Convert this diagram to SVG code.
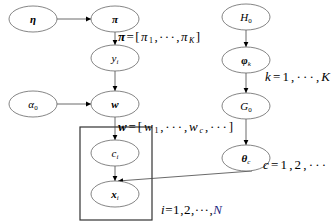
<svg xmlns="http://www.w3.org/2000/svg" width="336" height="222" viewBox="0 0 336 222">
<defs>
<marker id="ah" markerWidth="6" markerHeight="6" refX="5" refY="3" orient="auto" markerUnits="userSpaceOnUse"><path d="M0,0.6 L5,3 L0,5.4 Z" fill="#000"/></marker>
</defs>
<style>
.n ellipse{fill:#fff;stroke:#666;stroke-width:0.8}
text{font-family:"Liberation Serif","DejaVu Serif",serif;font-size:11px;fill:#000}
.c line{stroke:#444;stroke-width:0.8;fill:none;marker-end:url(#ah)}
.b{font-weight:bold;font-style:italic}
.i{font-style:italic}
.s{font-size:7px}
.l text{font-size:13px}
.l .s{font-size:8px}
</style>
<rect x="80" y="127" width="72" height="93" fill="none" stroke="#333" stroke-width="1.2"/>
<g class="c">
<line x1="57" y1="19" x2="91" y2="19"/>
<line x1="115" y1="32" x2="115" y2="45"/>
<line x1="115" y1="71" x2="115" y2="91"/>
<line x1="57" y1="104" x2="91" y2="104"/>
<line x1="115" y1="117" x2="115" y2="140"/>
<line x1="115" y1="166" x2="115" y2="181"/>
<line x1="246" y1="30" x2="246" y2="47"/>
<line x1="246" y1="73" x2="246" y2="93"/>
<line x1="246" y1="119" x2="246" y2="145"/>
<line x1="252" y1="171" x2="118" y2="181"/>
</g>
<g id="eta" class="n"><ellipse cx="33" cy="19" rx="24" ry="13"/><text x="33" y="23" text-anchor="middle" class="b">η</text></g>
<g id="pi" class="n"><ellipse cx="115" cy="19" rx="24" ry="13"/><text x="115" y="23" text-anchor="middle" class="b">π</text></g>
<g id="yi" class="n"><ellipse cx="115" cy="58" rx="24" ry="13"/><text x="115" y="62" text-anchor="middle"><tspan class="i">y</tspan><tspan class="s i" dy="2">i</tspan></text></g>
<g id="alpha0" class="n"><ellipse cx="33" cy="104" rx="24" ry="13"/><text x="33" y="108" text-anchor="middle"><tspan class="i">α</tspan><tspan class="s" dy="2">0</tspan></text></g>
<g id="w" class="n"><ellipse cx="115" cy="104" rx="24" ry="13"/><text x="115" y="108" text-anchor="middle" class="b">w</text></g>
<g id="ci" class="n"><ellipse cx="115" cy="153" rx="24" ry="13"/><text x="115" y="157" text-anchor="middle"><tspan class="i">c</tspan><tspan class="s i" dy="2">i</tspan></text></g>
<g id="xi" class="n"><ellipse cx="115" cy="194" rx="24" ry="13"/><text x="115" y="198" text-anchor="middle"><tspan class="b">x</tspan><tspan class="s i" dy="2">i</tspan></text></g>
<g id="H0" class="n"><ellipse cx="246" cy="17" rx="24" ry="13"/><text x="246" y="21" text-anchor="middle"><tspan class="i">H</tspan><tspan class="s" dy="2">0</tspan></text></g>
<g id="phik" class="n"><ellipse cx="246" cy="60" rx="24" ry="13"/><text x="246" y="64" text-anchor="middle"><tspan class="b">φ</tspan><tspan class="s i" dy="2">k</tspan></text></g>
<g id="G0" class="n"><ellipse cx="246" cy="106" rx="24" ry="13"/><text x="246" y="110" text-anchor="middle"><tspan class="i">G</tspan><tspan class="s" dy="2">0</tspan></text></g>
<g id="thetac" class="n"><ellipse cx="246" cy="158" rx="24" ry="13"/><text x="246" y="162" text-anchor="middle"><tspan class="b">θ</tspan><tspan class="s i" dy="2">c</tspan></text></g>
<g id="labels" class="l">
<text x="118" y="41" textLength="82"><tspan class="b">π</tspan>=[<tspan class="i">π</tspan><tspan class="s" dy="2">1</tspan><tspan dy="-2">,···,</tspan><tspan class="i">π</tspan><tspan class="s i" dy="2">K</tspan><tspan dy="-2">]</tspan></text>
<text x="265" y="81" textLength="65"><tspan class="i">k</tspan>=1,···,<tspan class="i">K</tspan></text>
<text x="118" y="131" textLength="115"><tspan class="b">w</tspan>=[<tspan class="i">w</tspan><tspan class="s" dy="2">1</tspan><tspan dy="-2">,···,</tspan><tspan class="i">w</tspan><tspan class="s i" dy="2">c</tspan><tspan dy="-2">,···]</tspan></text>
<text x="263" y="169" textLength="63"><tspan class="i">c</tspan>=1,2,···</text>
<text x="161" y="214" textLength="61"><tspan class="i">i</tspan>=1,2,···,<tspan class="i" fill="#1a237e">N</tspan></text>
</g>
</svg>
